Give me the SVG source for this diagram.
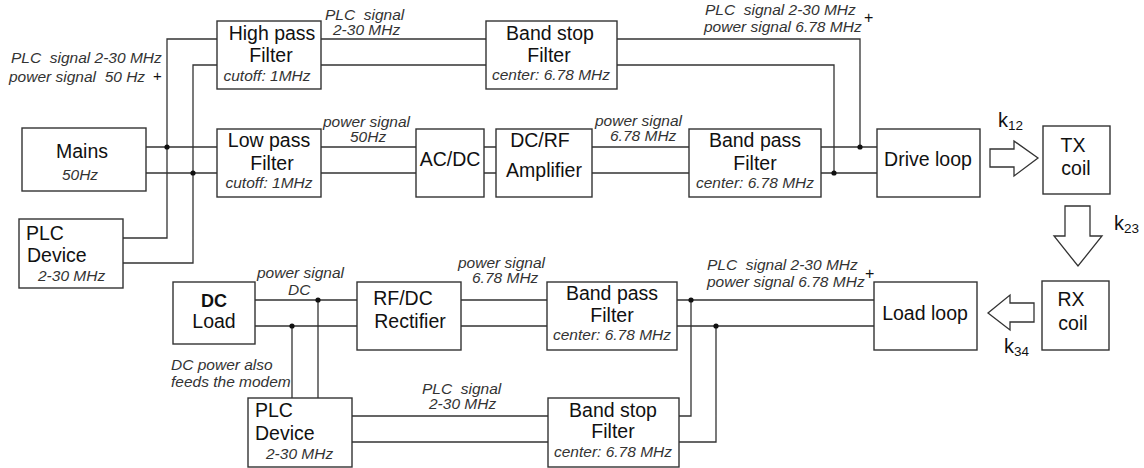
<svg xmlns="http://www.w3.org/2000/svg" width="1144" height="468" viewBox="0 0 1144 468">
<style>
.box{fill:#fff;stroke:#333;stroke-width:1.4}
.w{stroke:#333;stroke-width:1.3;fill:none}
.dot{fill:#111}
.t{font-family:"Liberation Sans",Arial,sans-serif;font-size:19.5px;fill:#111;text-anchor:middle}
.s{font-family:"Liberation Sans",Arial,sans-serif;font-size:15.5px;font-style:italic;fill:#333;text-anchor:middle}
.l{font-family:"Liberation Sans",Arial,sans-serif;font-size:15.5px;font-style:italic;fill:#333}
.p{font-family:"Liberation Sans",Arial,sans-serif;font-size:16px;fill:#111}
.k{font-family:"Liberation Sans",Arial,sans-serif;font-size:20px;fill:#111}
.arrow{fill:#fff;stroke:#333;stroke-width:1.3}
</style>
<rect width="1144" height="468" fill="#fff"/>
<g id="connectors">
<path class="w" d="M146 147H217M146 173H217"/>
<path class="w" d="M123 238H167V39H217M123 263H193V65H217"/>
<path class="w" d="M321 39H486M321 65H486"/>
<path class="w" d="M617 39H860V147M617 65H834V173"/>
<path class="w" d="M321 147H416M321 173H416M484 147H496M484 173H496M592 147H689M592 173H689M821 147H877M821 173H877"/>
<path class="w" d="M255 300H357M255 326H357M318 300V398M292 326V398"/>
<path class="w" d="M461 300H547M461 326H547M677 300H874M677 326H874"/>
<path class="w" d="M352 416H548M352 442H548M679 416H691V300M679 442H716V326"/>
<circle class="dot" cx="167" cy="147" r="2.6"/>
<circle class="dot" cx="193" cy="173" r="2.6"/>
<circle class="dot" cx="860" cy="147" r="2.6"/>
<circle class="dot" cx="834" cy="173" r="2.6"/>
<circle class="dot" cx="318" cy="300" r="2.6"/>
<circle class="dot" cx="292" cy="326" r="2.6"/>
<circle class="dot" cx="691" cy="300" r="2.6"/>
<circle class="dot" cx="716" cy="326" r="2.6"/>
<polygon class="arrow" points="990,149 1014,149 1014,141 1038,158 1014,176 1014,167 990,167"/>
<polygon class="arrow" points="1065,206 1090,206 1090,236 1102,236 1078,266 1054,236 1065,236"/>
<polygon class="arrow" points="1034,303 1010,303 1010,295 988,313 1010,330 1010,322 1034,322"/>
</g>
<g id="labels">
<text class="l" x="11" y="63">PLC &#160;signal 2-30 MHz</text>
<text class="l" x="9" y="82">power signal &#160;50 Hz</text>
<text class="p" x="153" y="81" style="font-size:15px">+</text>
<text class="l" x="325" y="20">PLC &#160;signal</text>
<text class="l" x="333" y="35">2-30 MHz</text>
<text class="l" x="323" y="127">power signal</text>
<text class="l" x="350" y="142">50Hz</text>
<text class="l" x="595" y="126">power signal</text>
<text class="l" x="610" y="141">6.78 MHz</text>
<text class="l" x="705" y="15">PLC &#160;signal 2-30 MHz</text>
<text class="l" x="704" y="32">power signal 6.78 MHz</text>
<text class="p" x="864" y="23">+</text>
<text class="l" x="707" y="270">PLC &#160;signal 2-30 MHz</text>
<text class="l" x="707" y="287">power signal 6.78 MHz</text>
<text class="p" x="865" y="279">+</text>
<text class="l" x="257" y="278">power signal</text>
<text class="l" x="288" y="295">DC</text>
<text class="l" x="458" y="268">power signal</text>
<text class="l" x="472" y="283">6.78 MHz</text>
<text class="l" x="171" y="370">DC power also</text>
<text class="l" x="171" y="387">feeds the modem</text>
<text class="l" x="422" y="394">PLC &#160;signal</text>
<text class="l" x="429" y="409">2-30 MHz</text>
<text class="k" x="998" y="127">k<tspan font-size="13.5" dy="3">12</tspan></text>
<text class="k" x="1114" y="230">k<tspan font-size="13.5" dy="3">23</tspan></text>
<text class="k" x="1004" y="353">k<tspan font-size="13.5" dy="3">34</tspan></text>
</g>
<g id="mains"><rect class="box" x="22" y="128" width="124" height="63"/><text class="t" x="82" y="158">Mains</text><text class="s" x="80" y="180">50Hz</text></g>
<g id="plc-device-top"><rect class="box" x="19" y="219" width="104" height="69"/><text class="t" x="26" y="240" style="text-anchor:start">PLC</text><text class="t" x="27" y="262" style="text-anchor:start">Device</text><text class="s" x="38" y="281" style="text-anchor:start">2-30 MHz</text></g>
<g id="high-pass"><rect class="box" x="217" y="21" width="104" height="68"/><text class="t" x="272" y="40">High pass</text><text class="t" x="271" y="62">Filter</text><text class="s" x="267" y="81">cutoff: 1MHz</text></g>
<g id="low-pass"><rect class="box" x="217" y="129" width="104" height="68"/><text class="t" x="269" y="147">Low pass</text><text class="t" x="272" y="170">Filter</text><text class="s" x="269" y="188">cutoff: 1MHz</text></g>
<g id="band-stop-top"><rect class="box" x="486" y="21" width="131" height="68"/><text class="t" x="550" y="40">Band stop</text><text class="t" x="549" y="62">Filter</text><text class="s" x="551" y="80">center: 6.78 MHz</text></g>
<g id="acdc"><rect class="box" x="416" y="129" width="68" height="68"/><text class="t" x="450" y="166">AC/DC</text></g>
<g id="dcrf"><rect class="box" x="496" y="129" width="96" height="68"/><text class="t" x="540" y="147">DC/RF</text><text class="t" x="544" y="177">Amplifier</text></g>
<g id="band-pass-top"><rect class="box" x="689" y="129" width="132" height="68"/><text class="t" x="755" y="147">Band pass</text><text class="t" x="755" y="170">Filter</text><text class="s" x="755" y="188">center: 6.78 MHz</text></g>
<g id="drive-loop"><rect class="box" x="877" y="129" width="103" height="68"/><text class="t" x="928" y="166">Drive loop</text></g>
<g id="tx-coil"><rect class="box" x="1043" y="126" width="67" height="68"/><text class="t" x="1073" y="152">TX</text><text class="t" x="1076" y="175">coil</text></g>
<g id="rx-coil"><rect class="box" x="1042" y="281" width="67" height="69"/><text class="t" x="1071" y="306">RX</text><text class="t" x="1073" y="330">coil</text></g>
<g id="load-loop"><rect class="box" x="874" y="282" width="103" height="68"/><text class="t" x="925" y="320">Load loop</text></g>
<g id="dc-load"><rect class="box" x="173" y="282" width="82" height="62"/><text class="t" x="214" y="307" style="font-weight:bold;font-size:18px">DC</text><text class="t" x="214" y="328">Load</text></g>
<g id="rfdc"><rect class="box" x="357" y="282" width="104" height="68"/><text class="t" x="403" y="305">RF/DC</text><text class="t" x="410" y="328">Rectifier</text></g>
<g id="band-pass-bottom"><rect class="box" x="547" y="282" width="130" height="68"/><text class="t" x="612" y="300">Band pass</text><text class="t" x="612" y="322">Filter</text><text class="s" x="612" y="340">center: 6.78 MHz</text></g>
<g id="plc-device-bottom"><rect class="box" x="248" y="398" width="104" height="69"/><text class="t" x="255" y="417" style="text-anchor:start">PLC</text><text class="t" x="255" y="440" style="text-anchor:start">Device</text><text class="s" x="266" y="459" style="text-anchor:start">2-30 MHz</text></g>
<g id="band-stop-bottom"><rect class="box" x="548" y="398" width="131" height="69"/><text class="t" x="613" y="417">Band stop</text><text class="t" x="613" y="438">Filter</text><text class="s" x="613" y="457">center: 6.78 MHz</text></g>
</svg>
